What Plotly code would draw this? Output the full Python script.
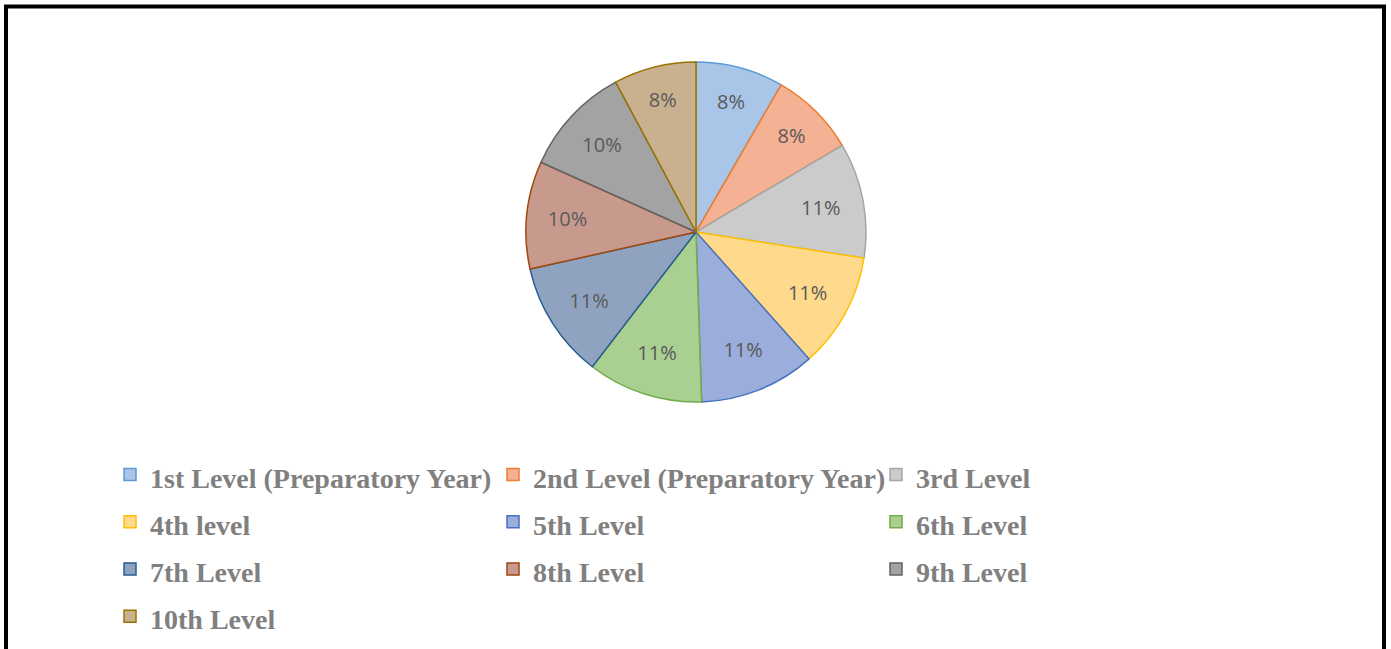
import plotly.graph_objects as go

# level names, as in the legend
levels = [
    "1st Level (Preparatory Year)",
    "2nd Level (Preparatory Year)",
    "3rd Level",
    "4th level",
    "5th Level",
    "6th Level",
    "7th Level",
    "8th Level",
    "9th Level",
    "10th Level",
]
# student counts per level
students = [80, 78, 105, 105, 106, 105, 106, 98, 100, 75]

fill_colors = ["#a9c5e8", "#f5b193", "#cbcbcb", "#ffd98c", "#9badda",
               "#a9cf91", "#8fa3c0", "#c89a8e", "#a3a3a3", "#c9b08f"]
line_colors = ["#5b9bd5", "#ed7d31", "#a5a5a5", "#ffc000", "#4472c4",
               "#70ad47", "#255e91", "#9e480e", "#636363", "#997300"]

W, H = 1391, 649

# legend row height follows the legend font size, so the label text itself is set smaller
legend_labels = ["<span style='font-size:28px'>%s</span>" % s for s in levels]

fig = go.Figure(go.Pie(
    labels=legend_labels,
    values=students,
    sort=False,
    direction="clockwise",
    rotation=0,
    marker=dict(colors=fill_colors, line=dict(color=line_colors, width=1.5)),
    texttemplate="%{percent:.0%}",
    textposition="inside",
    insidetextorientation="horizontal",
    textfont=dict(family="Open Sans, sans-serif", size=20, color="#595959"),
    hovertext=levels,
    hoverinfo="text+value+percent",
    domain=dict(x=[526 / W, 866 / W], y=[(H - 402) / H, (H - 62) / H]),
))

fig.update_layout(
    width=W, height=H,
    margin=dict(l=0, r=0, t=0, b=0),
    paper_bgcolor="white",
    plot_bgcolor="white",
    showlegend=True,
    legend=dict(
        orientation="h",
        x=110 / W, xanchor="left",
        y=(H - 446) / H, yanchor="top",
        entrywidth=338,
        entrywidthmode="pixels",
        traceorder="normal",
        font=dict(family="Liberation Serif, Times New Roman, serif", size=34,
                  color="#808080", weight="bold"),
        itemclick=False,
    ),
    shapes=[
        dict(type="line", xref="paper", yref="paper", x0=6 / W, x1=6 / W, y0=-0.05, y1=(H - 5) / H,
             line=dict(color="black", width=4)),
        dict(type="line", xref="paper", yref="paper", x0=1384 / W, x1=1384 / W, y0=-0.05, y1=(H - 5) / H,
             line=dict(color="black", width=4)),
        dict(type="line", xref="paper", yref="paper", x0=4 / W, x1=1386 / W, y0=(H - 6.5) / H, y1=(H - 6.5) / H,
             line=dict(color="black", width=4)),
    ],
)

fig.write_html("out.html", config={"displayModeBar": False},
               post_script="document.body.style.margin='0';")
